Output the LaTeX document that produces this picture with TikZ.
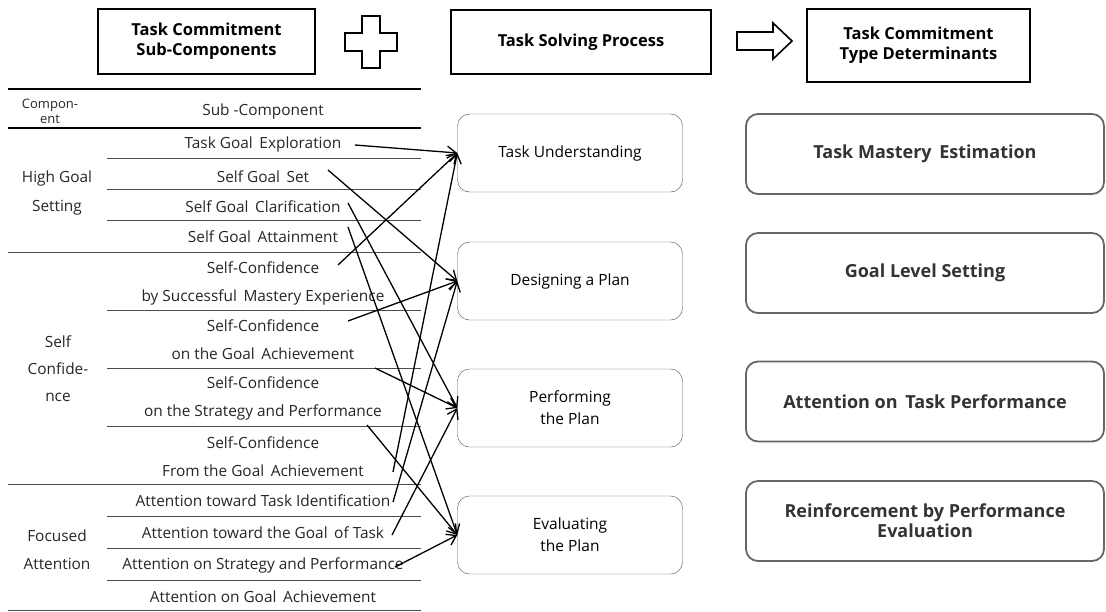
\documentclass[tikz,border=0pt]{standalone}
\usepackage{fontspec}
\setmainfont{Open Sans}
\usetikzlibrary{arrows.meta}

\begin{document}
\begin{tikzpicture}[x=1pt,y=-1pt,
    hdr/.style={draw,line width=1.6pt,inner sep=0pt,align=center,font=\bfseries\fontsize{16.5}{20}\selectfont},
    proc/.style={draw=black!70,rounded corners=12pt,minimum width=225pt,minimum height=78pt,align=center,font=\fontsize{15.5}{22}\selectfont},
    det/.style={draw=black!60,line width=1.8pt,rounded corners=12pt,minimum width=358pt,minimum height=80pt,align=center,text=black!80,font=\bfseries\fontsize{18}{20}\selectfont},
    sub/.style={inner sep=0pt,align=center,text=black!85,font=\fontsize{15.4}{28}\selectfont},
    rule/.style={draw=black!70,line width=0.9pt},
    link/.style={line width=1.3pt,-{Straight Barb[length=9pt,width=12pt]}},
  ]
  \useasboundingbox (0,0) rectangle (1106,611);

  % heading row
  \node[hdr,minimum width=217pt,minimum height=65pt] (subs) at (206.5,41.5) {Task Commitment\\Sub-Components};
  \node[hdr,minimum width=260pt,minimum height=64pt] (solve) at (581,42) {Task Solving Process};
  \node[hdr,minimum width=223pt,minimum height=73pt] (types) at (918.5,45.5) {Task Commitment\\Type Determinants};
  \draw[line width=1.6pt] (362,16) -- (380,16) -- (380,33) -- (397,33) -- (397,51) -- (380,51)
    -- (380,68) -- (362,68) -- (362,51) -- (345,51) -- (345,33) -- (362,33) -- cycle;
  \draw[line width=1.6pt] (737,32) -- (773,32) -- (773,23) -- (792,41) -- (773,59) -- (773,50) -- (737,50) -- cycle;

  % table rules
  \draw[line width=1.4pt] (8,89) -- (421,89);
  \draw[line width=1.4pt] (8,128) -- (421,128);
  \foreach \y in {252,484,610}
    \draw[rule] (8,\y) -- (421,\y);
  \foreach \y in {158,189,220,310,368,426,516,548,580}
    \draw[rule] (107,\y) -- (421,\y);

  % table head and components
  \node[sub,font=\fontsize{13}{15}\selectfont] (comp) at (50,111) {Compon-\\ent};
  \node[sub] (subcomp) at (263,111) {Sub -Component};
  \node[sub,font=\fontsize{15.4}{29}\selectfont] (hgs) at (57,193) {High Goal\\Setting};
  \node[sub,font=\fontsize{15.4}{27}\selectfont] (scf) at (58,369) {Self\\Confide-\\nce};
  \node[sub] (fat) at (57,550) {Focused\\Attention};

  % sub-components
  \node[sub] (tge) at (263,144) {Task Goal\, Exploration};
  \node[sub] (sgs) at (263,177) {Self Goal\, Set};
  \node[sub] (sgc) at (263,207) {Self Goal\, Clarification};
  \node[sub] (sga) at (263,237) {Self Goal\, Attainment};
  \node[sub] (sc1) at (263,283) {Self-Confidence\\by Successful\, Mastery Experience};
  \node[sub] (sc2) at (263,340) {Self-Confidence\\on the Goal\, Achievement};
  \node[sub] (sc3) at (263,398) {Self-Confidence\\on the Strategy and Performance};
  \node[sub] (sc4) at (263,457) {Self-Confidence\\From the Goal\, Achievement};
  \node[sub] (at1) at (263,501) {Attention toward Task Identification};
  \node[sub] (at2) at (263,533) {Attention toward the Goal\, of Task};
  \node[sub] (at3) at (263,565) {Attention on Strategy and Performance};
  \node[sub] (at4) at (263,597) {Attention on Goal\, Achievement};

  % solving process
  \node[proc] (und) at (570,153) {Task Understanding};
  \node[proc] (dsg) at (570,281) {Designing a Plan};
  \node[proc] (prf) at (570,408) {Performing\\the Plan};
  \node[proc] (evl) at (570,535) {Evaluating\\the Plan};

  % determinants
  \node[det] (tme) at (925,154) {Task Mastery\, Estimation};
  \node[det] (gls) at (925,273) {Goal Level Setting};
  \node[det] (atp) at (925,401.5) {Attention on\, Task Performance};
  \node[det] (rpe) at (925,521) {Reinforcement by Performance\\Evaluation};

  % where the links leave the table
  \coordinate (tge-o) at (355,145);
  \coordinate (sgs-o) at (328,170);
  \coordinate (sgc-o) at (348,203);
  \coordinate (sga-o) at (348,227);
  \coordinate (sc1-o) at (338,265);
  \coordinate (sc2-o) at (348,321);
  \coordinate (sc3-o) at (375,368);
  \coordinate (sc4-o) at (367,425);
  \coordinate (sc5-o) at (393,472);
  \coordinate (at1-o) at (393,502);
  \coordinate (at2-o) at (392,535);
  \coordinate (at3-o) at (395,567);

  \foreach \s/\t in {tge/und,sgs/dsg,sgc/prf,sga/evl,sc1/und,sc2/dsg,sc3/prf,sc4/evl,
                     sc5/und,at1/dsg,at2/prf,at3/evl}
    \draw[link] (\s-o) -- (\t.west);
\end{tikzpicture}
\end{document}
